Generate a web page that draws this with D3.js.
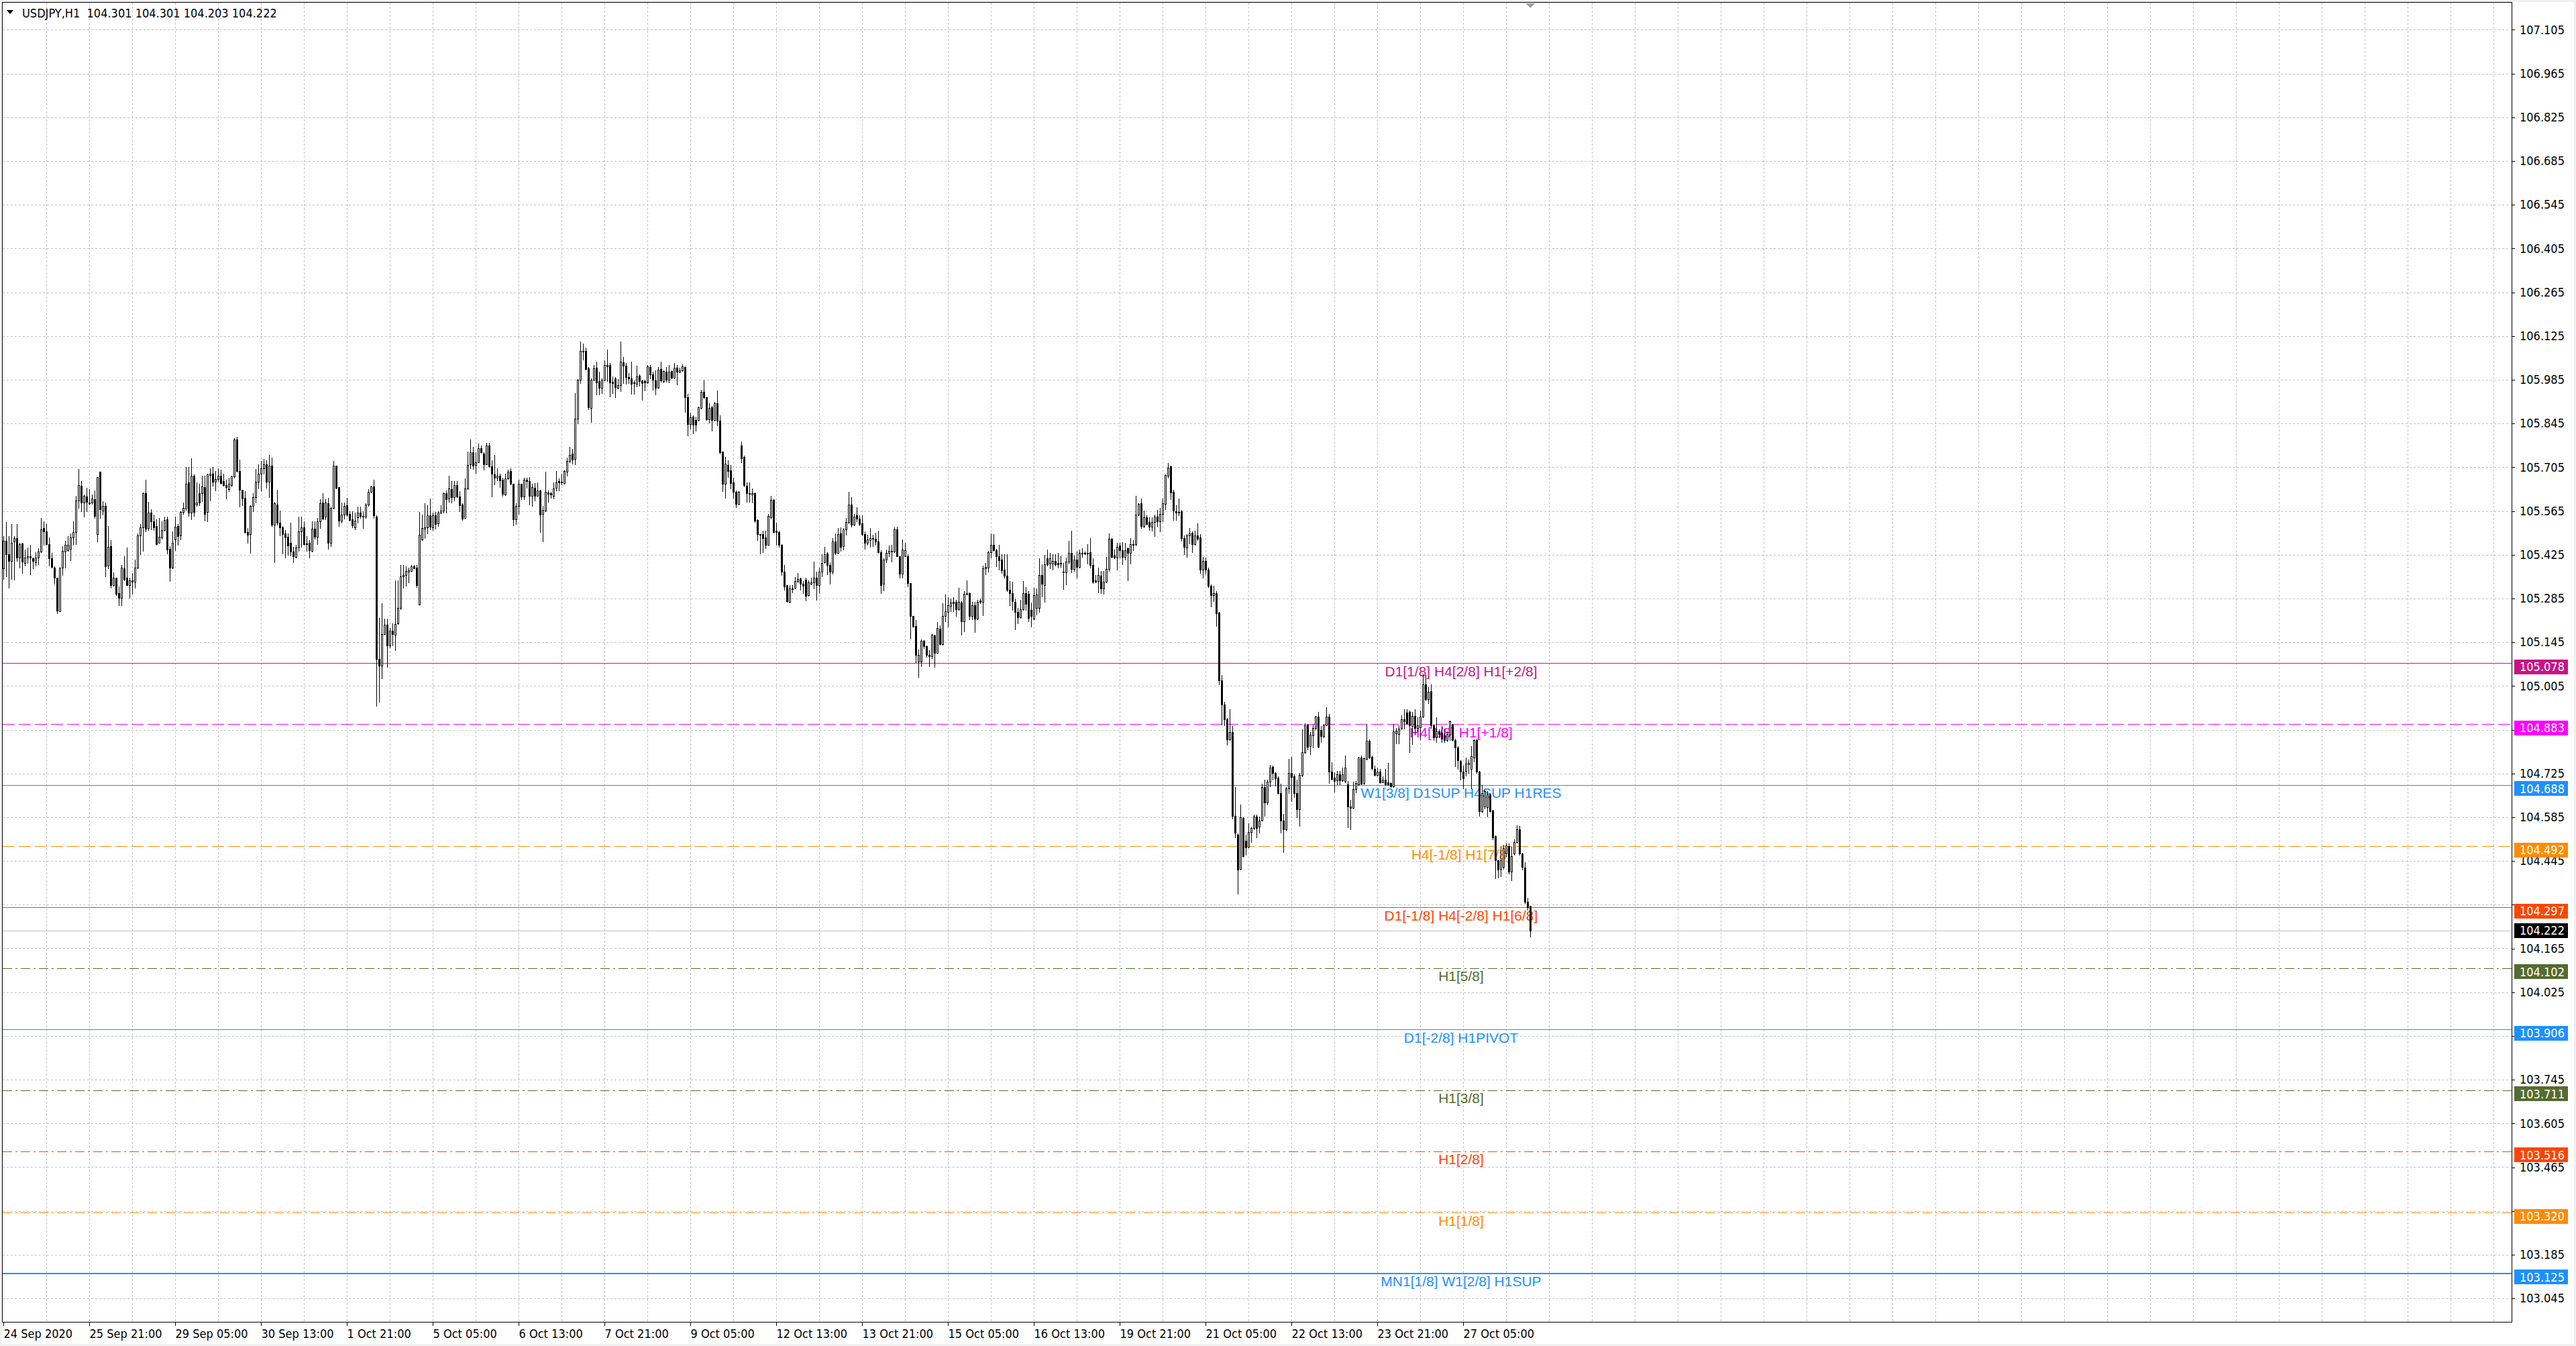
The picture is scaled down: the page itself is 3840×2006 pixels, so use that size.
<!DOCTYPE html>
<html>
<head>
<meta charset="utf-8">
<script src="https://cdn.jsdelivr.net/npm/d3@7"></script>
<style>
  html, body { margin: 0; padding: 0; background: #fff; }
  svg { display: block; }
</style>
</head>
<body>
<script>
// USDJPY H1, one value per hourly bar
const opens = [
  105.381,105.470,105.426,105.406,105.467,105.477,105.416,105.461,105.399,105.415,
  105.420,105.414,105.400,105.415,105.436,105.510,105.500,105.459,105.413,105.384,
  105.352,105.245,105.383,105.436,105.440,105.443,105.481,105.497,105.599,105.646,
  105.591,105.611,105.591,105.591,105.603,105.490,105.690,105.567,105.581,105.391,
  105.452,105.328,105.352,105.302,105.286,105.381,105.351,105.328,105.342,105.338,
  105.383,105.486,105.513,105.621,105.510,105.560,105.531,105.517,105.464,105.481,
  105.503,105.539,105.443,105.384,105.474,105.517,105.486,105.562,105.572,105.657,
  105.560,105.677,105.585,105.622,105.622,105.642,105.562,105.680,105.685,105.658,
  105.667,105.678,105.660,105.648,105.635,105.648,105.675,105.793,105.692,105.632,
  105.606,105.498,105.490,105.581,105.608,105.658,105.684,105.701,105.714,105.658,
  105.710,105.522,105.585,105.528,105.512,105.493,105.483,105.464,105.435,105.417,
  105.449,105.499,105.512,105.461,105.462,105.438,105.508,105.483,105.531,105.592,
  105.546,105.589,105.464,105.574,105.709,105.641,105.533,105.553,105.583,105.555,
  105.538,105.513,105.544,105.560,105.548,105.546,105.586,105.627,105.644,105.546,
  105.092,105.070,105.171,105.200,105.134,105.181,105.168,105.206,105.254,105.356,
  105.360,105.370,105.372,105.388,105.383,105.266,105.474,105.508,105.513,105.551,
  105.513,105.551,105.526,105.560,105.567,105.622,105.605,105.635,105.610,105.647,
  105.612,105.585,105.542,105.637,105.714,105.753,105.712,105.721,105.765,105.748,
  105.715,105.775,105.707,105.682,105.671,105.678,105.664,105.617,105.670,105.692,
  105.651,105.538,105.581,105.651,105.612,105.665,105.661,105.614,105.640,105.613,
  105.631,105.556,105.566,105.624,105.622,105.614,105.640,105.660,105.656,105.655,
  105.690,105.724,105.748,105.731,105.860,105.984,106.075,106.077,106.021,105.894,
  105.985,106.023,105.980,105.958,105.985,106.032,106.032,105.978,105.989,105.958,
  105.967,106.041,106.030,105.993,105.989,105.977,105.971,105.998,105.982,105.980,
  105.977,106.025,106.001,105.982,105.960,106.020,105.980,106.010,105.985,106.013,
  105.991,106.023,106.010,106.014,106.026,105.930,105.844,105.867,105.855,105.855,
  105.894,105.946,105.928,105.858,105.896,105.855,105.910,105.853,105.755,105.652,
  105.713,105.695,105.656,105.627,105.588,105.774,105.738,105.645,105.622,105.617,
  105.622,105.536,105.490,105.490,105.481,105.457,105.545,105.600,105.502,105.497,
  105.457,105.371,105.327,105.273,105.316,105.319,105.341,105.350,105.333,105.345,
  105.295,105.333,105.336,105.352,105.328,105.370,105.400,105.429,105.393,105.371,
  105.467,105.431,105.492,105.452,105.507,105.529,105.585,105.520,105.550,105.540,
  105.526,105.490,105.462,105.472,105.479,105.476,105.467,105.434,105.331,105.409,
  105.431,105.436,105.436,105.506,105.420,105.364,105.421,105.421,105.334,105.228,
  105.197,105.082,105.082,105.149,105.132,105.105,105.101,105.166,105.111,105.189,
  105.139,105.228,105.242,105.262,105.273,105.273,105.250,105.271,105.211,105.298,
  105.302,105.228,105.264,105.220,105.278,105.275,105.381,105.384,105.433,105.456,
  105.440,105.419,105.409,105.377,105.357,105.313,105.302,105.275,105.241,105.225,
  105.250,105.302,105.300,105.248,105.221,105.255,105.255,105.359,105.328,105.414,
  105.397,105.397,105.404,105.398,105.397,105.371,105.368,105.402,105.430,105.379,
  105.409,105.386,105.430,105.431,105.431,105.433,105.393,105.343,105.341,105.357,
  105.316,105.339,105.379,105.475,105.422,105.415,105.454,105.439,105.418,105.445,
  105.430,105.458,105.458,105.553,105.589,105.517,105.544,105.529,105.515,105.529,
  105.547,105.531,105.556,105.587,105.677,105.707,105.626,105.565,105.562,105.565,
  105.478,105.449,105.486,105.495,105.458,105.487,105.481,105.377,105.406,105.377,
  105.325,105.296,105.301,105.240,105.023,104.946,104.899,104.834,104.858,104.590,
  104.530,104.420,104.583,104.509,104.491,104.537,104.551,104.587,104.554,104.575,
  104.682,104.632,104.698,104.745,104.727,104.711,104.662,104.575,104.546,104.677,
  104.727,104.716,104.662,104.611,104.720,104.792,104.882,104.813,104.846,104.870,
  104.906,104.864,104.844,104.880,104.906,104.731,104.711,104.702,104.723,104.703,
  104.701,104.690,104.619,104.615,104.676,104.690,104.776,104.694,104.771,104.830,
  104.778,104.740,104.719,104.730,104.697,104.705,104.696,104.694,104.683,104.854,
  104.851,104.871,104.898,104.919,104.921,104.876,104.909,104.871,104.873,104.907,
  105.009,104.962,104.989,104.880,104.841,104.859,104.855,104.848,104.832,104.848,
  104.882,104.832,104.808,104.765,104.730,104.732,104.755,104.740,104.776,104.832,
  104.730,104.604,104.619,104.617,104.658,104.606,104.524,104.447,104.420,104.425,
  104.468,104.493,104.410,104.468,104.506,104.547,104.468,104.424,104.314,104.301
];
const highs = [
  105.484,105.530,105.484,105.524,105.484,105.524,105.463,105.463,105.441,105.449,
  105.456,105.416,105.434,105.445,105.542,105.531,105.524,105.481,105.431,105.388,
  105.352,105.384,105.452,105.470,105.484,105.492,105.531,105.614,105.700,105.660,
  105.617,105.639,105.634,105.617,105.631,105.673,105.690,105.596,105.592,105.517,
  105.472,105.369,105.352,105.324,105.392,105.420,105.449,105.351,105.366,105.409,
  105.492,105.524,105.624,105.665,105.594,105.571,105.553,105.538,105.543,105.531,
  105.546,105.546,105.452,105.500,105.546,105.524,105.564,105.591,105.705,105.705,
  105.734,105.682,105.657,105.651,105.678,105.678,105.685,105.701,105.705,105.692,
  105.701,105.696,105.685,105.664,105.671,105.678,105.798,105.803,105.730,105.632,
  105.628,105.510,105.584,105.621,105.700,105.715,105.725,105.732,105.727,105.744,
  105.735,105.594,105.633,105.567,105.517,105.503,105.493,105.528,105.450,105.456,
  105.546,105.546,105.531,105.484,105.472,105.531,105.531,105.543,105.603,105.621,
  105.603,105.607,105.578,105.725,105.709,105.642,105.592,105.592,105.607,105.565,
  105.564,105.560,105.578,105.579,105.564,105.589,105.634,105.646,105.664,105.551,
  105.223,105.270,105.221,105.221,105.191,105.206,105.342,105.342,105.392,105.392,
  105.388,105.384,105.392,105.393,105.392,105.562,105.553,105.589,105.584,105.605,
  105.560,105.562,105.564,105.584,105.624,105.631,105.678,105.660,105.660,105.660,
  105.629,105.589,105.670,105.755,105.794,105.771,105.753,105.780,105.775,105.753,
  105.782,105.784,105.728,105.744,105.701,105.685,105.671,105.684,105.696,105.701,
  105.653,105.589,105.664,105.651,105.671,105.672,105.674,105.652,105.655,105.656,
  105.633,105.581,105.690,105.631,105.627,105.657,105.693,105.670,105.685,105.695,
  105.735,105.769,105.763,105.942,105.987,106.107,106.100,106.087,106.025,105.989,
  106.032,106.043,106.010,105.989,106.046,106.082,106.039,105.996,105.993,105.987,
  106.107,106.057,106.039,106.007,106.043,105.982,106.030,106.001,105.984,105.984,
  106.032,106.032,106.010,106.015,106.025,106.043,106.015,106.025,106.032,106.015,
  106.039,106.032,106.023,106.034,106.028,105.939,105.879,105.872,105.867,105.899,
  105.953,105.982,105.930,105.910,105.901,105.914,105.950,105.871,105.755,105.738,
  105.728,105.713,105.672,105.631,105.629,105.788,105.742,105.657,105.657,105.638,
  105.624,105.538,105.491,105.502,105.502,105.556,105.613,105.602,105.527,105.502,
  105.459,105.392,105.328,105.327,105.328,105.354,105.366,105.352,105.340,105.352,
  105.343,105.352,105.402,105.370,105.384,105.427,105.450,105.433,105.400,105.479,
  105.492,105.510,105.512,105.510,105.542,105.626,105.610,105.555,105.576,105.550,
  105.552,105.499,105.488,105.510,105.488,105.495,105.502,105.440,105.413,105.442,
  105.454,105.456,105.512,105.514,105.421,105.474,105.464,105.427,105.335,105.230,
  105.216,105.121,105.154,105.152,105.134,105.119,105.171,105.168,105.209,105.198,
  105.270,105.297,105.290,105.284,105.290,105.280,105.320,105.277,105.309,105.343,
  105.304,105.273,105.273,105.280,105.285,105.391,105.399,105.438,105.492,105.490,
  105.443,105.457,105.427,105.427,105.427,105.340,105.338,105.284,105.255,105.280,
  105.341,105.321,105.309,105.271,105.320,105.316,105.413,105.395,105.424,105.442,
  105.431,105.427,105.427,105.431,105.419,105.398,105.415,105.469,105.502,105.422,
  105.436,105.442,105.445,105.436,105.458,105.478,105.413,105.359,105.384,105.373,
  105.373,105.418,105.493,105.478,105.441,105.463,105.463,105.465,105.463,105.449,
  105.478,105.472,105.614,105.589,105.605,105.567,105.551,105.544,105.544,105.553,
  105.569,105.574,105.605,105.682,105.719,105.711,105.632,105.583,105.605,105.569,
  105.487,105.490,105.511,105.499,105.502,105.526,105.490,105.418,105.415,105.384,
  105.330,105.325,105.309,105.242,105.041,104.955,104.903,104.930,104.876,104.682,
  104.533,104.626,104.584,104.530,104.566,104.554,104.593,104.593,104.587,104.693,
  104.704,104.704,104.752,104.750,104.729,104.716,104.693,104.596,104.682,104.772,
  104.779,104.723,104.704,104.727,104.867,104.885,104.882,104.858,104.882,104.910,
  104.921,104.876,104.882,104.937,104.915,104.761,104.729,104.732,104.732,104.744,
  104.783,104.700,104.640,104.699,104.700,104.779,104.782,104.776,104.884,104.833,
  104.783,104.751,104.744,104.740,104.715,104.740,104.758,104.696,104.884,104.871,
  104.880,104.912,104.930,104.930,104.927,104.921,104.930,104.905,104.927,105.044,
  105.041,105.001,105.009,104.884,104.905,104.866,104.876,104.869,104.859,104.894,
  104.884,104.835,104.812,104.768,104.751,104.776,104.769,104.812,104.833,104.835,
  104.732,104.687,104.672,104.669,104.662,104.608,104.526,104.448,104.490,104.497,
  104.500,104.500,104.490,104.513,104.558,104.556,104.472,104.441,104.328,104.301
];
const lows = [
  105.348,105.356,105.320,105.348,105.345,105.406,105.384,105.366,105.391,105.399,
  105.363,105.381,105.391,105.395,105.434,105.456,105.456,105.391,105.384,105.331,
  105.237,105.245,105.359,105.384,105.438,105.407,105.456,105.459,105.574,105.564,
  105.546,105.564,105.585,105.588,105.542,105.467,105.542,105.553,105.356,105.381,
  105.320,105.326,105.295,105.263,105.263,105.342,105.327,105.286,105.299,105.320,
  105.381,105.426,105.438,105.500,105.503,105.506,105.503,105.456,105.462,105.476,
  105.501,105.429,105.340,105.381,105.440,105.456,105.474,105.555,105.569,105.549,
  105.539,105.549,105.581,105.584,105.596,105.533,105.531,105.599,105.646,105.631,
  105.660,105.651,105.646,105.605,105.628,105.644,105.671,105.691,105.578,105.584,
  105.496,105.464,105.431,105.564,105.592,105.637,105.631,105.685,105.639,105.608,
  105.517,105.400,105.522,105.486,105.428,105.415,105.424,105.422,105.400,105.415,
  105.438,105.450,105.456,105.438,105.415,105.436,105.476,105.459,105.510,105.538,
  105.538,105.443,105.452,105.572,105.637,105.517,105.528,105.541,105.549,105.533,
  105.513,105.506,105.528,105.542,105.510,105.542,105.581,105.624,105.542,104.941,
  104.954,105.030,105.170,105.066,105.127,105.134,105.120,105.204,105.250,105.319,
  105.326,105.336,105.372,105.381,105.321,105.266,105.472,105.478,105.493,105.506,
  105.503,105.508,105.517,105.558,105.560,105.560,105.594,105.592,105.599,105.610,
  105.565,105.536,105.541,105.635,105.701,105.700,105.687,105.720,105.751,105.698,
  105.714,105.705,105.612,105.649,105.662,105.642,105.614,105.615,105.667,105.649,
  105.519,105.524,105.556,105.603,105.603,105.640,105.586,105.581,105.599,105.613,
  105.498,105.468,105.564,105.595,105.606,105.604,105.631,105.631,105.649,105.652,
  105.677,105.720,105.717,105.715,105.846,105.975,106.050,106.018,105.891,105.849,
  105.982,105.937,105.937,105.942,105.982,105.980,105.932,105.942,105.930,105.957,
  105.948,105.975,105.971,105.975,105.939,105.939,105.964,105.965,105.921,105.950,
  105.975,105.989,105.953,105.937,105.958,105.978,105.977,105.978,105.977,105.989,
  105.989,105.970,106.008,106.013,105.882,105.806,105.829,105.814,105.822,105.853,
  105.892,105.924,105.857,105.848,105.822,105.853,105.839,105.749,105.629,105.606,
  105.674,105.638,105.606,105.577,105.586,105.720,105.643,105.593,105.593,105.592,
  105.529,105.471,105.428,105.433,105.445,105.456,105.541,105.495,105.456,105.450,
  105.359,105.312,105.273,105.271,105.305,105.316,105.337,105.313,105.302,105.278,
  105.293,105.330,105.316,105.280,105.302,105.356,105.399,105.363,105.333,105.364,
  105.427,105.429,105.438,105.441,105.488,105.526,105.514,105.519,105.531,105.519,
  105.486,105.443,105.457,105.450,105.452,105.457,105.431,105.302,105.311,105.400,
  105.421,105.402,105.434,105.419,105.352,105.352,105.419,105.323,105.155,105.195,
  105.080,105.033,105.068,105.125,105.098,105.068,105.094,105.066,105.109,105.137,
  105.137,105.212,105.195,105.245,105.245,105.230,105.248,105.168,105.180,105.297,
  105.218,105.218,105.178,105.218,105.270,105.232,105.363,105.370,105.416,105.438,
  105.388,105.377,105.366,105.352,105.309,105.264,105.248,105.187,105.205,105.223,
  105.248,105.248,105.211,105.195,105.218,105.234,105.241,105.291,105.273,105.390,
  105.381,105.377,105.391,105.384,105.386,105.314,105.330,105.397,105.368,105.373,
  105.352,105.384,105.418,105.427,105.397,105.384,105.334,105.337,105.305,105.303,
  105.300,105.337,105.373,105.415,105.413,105.377,105.415,105.394,105.409,105.343,
  105.397,105.439,105.454,105.551,105.511,105.513,105.520,105.504,105.502,105.484,
  105.517,105.499,105.531,105.571,105.671,105.603,105.535,105.535,105.551,105.469,
  105.427,105.418,105.460,105.433,105.457,105.472,105.366,105.352,105.364,105.321,
  105.258,105.276,105.197,105.011,104.881,104.879,104.816,104.831,104.581,104.521,
  104.341,104.418,104.458,104.465,104.488,104.506,104.546,104.521,104.536,104.573,
  104.590,104.626,104.684,104.704,104.686,104.659,104.536,104.474,104.545,104.662,
  104.637,104.650,104.584,104.557,104.716,104.788,104.801,104.786,104.808,104.867,
  104.808,104.825,104.840,104.879,104.695,104.704,104.666,104.689,104.690,104.700,
  104.697,104.553,104.547,104.612,104.665,104.687,104.690,104.690,104.769,104.773,
  104.737,104.718,104.718,104.694,104.696,104.687,104.687,104.682,104.682,104.821,
  104.821,104.866,104.869,104.884,104.792,104.819,104.848,104.860,104.833,104.905,
  104.958,104.949,104.870,104.832,104.825,104.840,104.825,104.826,104.828,104.832,
  104.830,104.748,104.740,104.705,104.677,104.718,104.726,104.677,104.762,104.726,
  104.590,104.599,104.612,104.586,104.601,104.515,104.390,104.391,104.395,104.420,
  104.460,104.404,104.384,104.465,104.504,104.465,104.418,104.310,104.289,104.203
];
const closes = [
  105.470,105.427,105.406,105.464,105.477,105.416,105.459,105.402,105.415,105.420,
  105.415,105.406,105.415,105.436,105.507,105.499,105.459,105.413,105.386,105.352,
  105.247,105.383,105.438,105.456,105.457,105.481,105.497,105.598,105.648,105.592,
  105.614,105.593,105.592,105.605,105.548,105.673,105.570,105.581,105.388,105.450,
  105.328,105.351,105.299,105.286,105.383,105.348,105.328,105.342,105.338,105.383,
  105.486,105.513,105.621,105.508,105.559,105.531,105.513,105.459,105.483,105.503,
  105.537,105.442,105.384,105.464,105.515,105.484,105.562,105.574,105.651,105.560,
  105.678,105.562,105.592,105.591,105.643,105.555,105.682,105.684,105.658,105.667,
  105.678,105.655,105.648,105.641,105.651,105.675,105.793,105.692,105.632,105.605,
  105.498,105.488,105.581,105.608,105.658,105.685,105.701,105.715,105.658,105.710,
  105.522,105.590,105.528,105.512,105.491,105.481,105.455,105.435,105.419,105.447,
  105.500,105.512,105.459,105.459,105.440,105.508,105.483,105.531,105.589,105.541,
  105.591,105.464,105.574,105.709,105.639,105.533,105.553,105.581,105.553,105.535,
  105.519,105.533,105.560,105.548,105.546,105.586,105.627,105.644,105.551,105.092,
  105.070,105.170,105.202,105.134,105.181,105.170,105.204,105.254,105.356,105.361,
  105.372,105.374,105.388,105.381,105.328,105.488,105.510,105.513,105.551,105.515,
  105.551,105.524,105.560,105.567,105.621,105.603,105.637,105.608,105.647,105.612,
  105.584,105.541,105.637,105.712,105.752,105.710,105.721,105.765,105.753,105.715,
  105.775,105.707,105.684,105.671,105.677,105.662,105.619,105.670,105.691,105.651,
  105.538,105.581,105.651,105.612,105.665,105.660,105.613,105.642,105.613,105.631,
  105.554,105.569,105.627,105.619,105.617,105.638,105.656,105.657,105.658,105.692,
  105.724,105.745,105.729,105.860,105.985,106.077,106.077,106.020,105.896,105.985,
  106.021,105.977,105.958,105.984,106.032,106.028,105.977,105.975,105.962,105.967,
  106.043,106.030,105.993,105.989,105.972,105.975,105.996,105.980,105.975,105.977,
  106.027,106.001,105.984,105.960,106.018,105.982,106.013,105.985,106.010,105.991,
  106.023,106.010,106.014,106.027,105.930,105.844,105.865,105.841,105.841,105.896,
  105.946,105.930,105.858,105.894,105.855,105.910,105.853,105.753,105.652,105.717,
  105.693,105.655,105.626,105.588,105.626,105.733,105.647,105.622,105.619,105.622,
  105.533,105.490,105.488,105.478,105.457,105.549,105.600,105.498,105.497,105.456,
  105.371,105.323,105.276,105.318,105.318,105.341,105.348,105.333,105.326,105.293,
  105.336,105.336,105.352,105.328,105.370,105.399,105.426,105.393,105.371,105.467,
  105.431,105.490,105.450,105.505,105.529,105.585,105.520,105.547,105.540,105.524,
  105.490,105.462,105.474,105.479,105.476,105.467,105.434,105.328,105.409,105.431,
  105.438,105.438,105.506,105.420,105.364,105.442,105.440,105.334,105.228,105.195,
  105.104,105.104,105.149,105.132,105.104,105.101,105.168,105.111,105.191,105.139,
  105.228,105.245,105.264,105.271,105.270,105.250,105.273,105.211,105.300,105.302,
  105.228,105.264,105.220,105.275,105.275,105.381,105.386,105.433,105.456,105.440,
  105.419,105.407,105.376,105.357,105.313,105.302,105.277,105.241,105.225,105.250,
  105.302,105.268,105.223,105.228,105.295,105.297,105.359,105.331,105.395,105.395,
  105.414,105.404,105.395,105.395,105.398,105.368,105.402,105.430,105.379,105.409,
  105.386,105.430,105.431,105.431,105.431,105.393,105.339,105.339,105.359,105.316,
  105.339,105.379,105.475,105.418,105.415,105.451,105.439,105.418,105.439,105.430,
  105.458,105.458,105.553,105.587,105.517,105.544,105.524,105.515,105.529,105.547,
  105.531,105.556,105.589,105.680,105.704,105.623,105.567,105.560,105.562,105.477,
  105.451,105.487,105.493,105.458,105.487,105.475,105.377,105.406,105.377,105.325,
  105.296,105.303,105.237,105.023,104.946,104.899,104.834,104.858,104.590,104.536,
  104.418,104.584,104.461,104.488,104.537,104.551,104.587,104.551,104.575,104.682,
  104.632,104.698,104.743,104.727,104.709,104.662,104.575,104.546,104.677,104.727,
  104.714,104.662,104.611,104.720,104.792,104.882,104.810,104.849,104.870,104.906,
  104.810,104.844,104.880,104.906,104.731,104.707,104.700,104.723,104.702,104.722,
  104.744,104.619,104.615,104.676,104.694,104.776,104.692,104.773,104.830,104.776,
  104.742,104.719,104.730,104.697,104.706,104.690,104.689,104.683,104.859,104.861,
  104.869,104.898,104.891,104.885,104.878,104.909,104.871,104.880,104.907,105.009,
  104.962,104.987,104.880,104.841,104.859,104.851,104.837,104.832,104.851,104.891,
  104.832,104.808,104.768,104.730,104.710,104.756,104.758,104.780,104.832,104.730,
  104.604,104.663,104.669,104.658,104.604,104.520,104.447,104.418,104.447,104.486,
  104.495,104.411,104.461,104.505,104.546,104.468,104.425,104.314,104.298,104.222
];

// time axis labels, one every 32 bars
const timeLabels = ["24 Sep 2020", "25 Sep 21:00", "29 Sep 05:00", "30 Sep 13:00", "1 Oct 21:00",
  "5 Oct 05:00", "6 Oct 13:00", "7 Oct 21:00", "9 Oct 05:00", "12 Oct 13:00", "13 Oct 21:00",
  "15 Oct 05:00", "16 Oct 13:00", "19 Oct 21:00", "21 Oct 05:00", "22 Oct 13:00", "23 Oct 21:00",
  "27 Oct 05:00"];
const labelStep = 32;

// price axis labels
const priceTicks = [107.105, 106.965, 106.825, 106.685, 106.545, 106.405, 106.265, 106.125,
  105.985, 105.845, 105.705, 105.565, 105.425, 105.285, 105.145, 105.005, 104.865, 104.725,
  104.585, 104.445, 104.305, 104.165, 104.025, 103.885, 103.745, 103.605, 103.465, 103.325,
  103.185, 103.045];

// murrey math levels
const levelPrices = [105.078, 104.883, 104.688, 104.492, 104.297, 104.102, 103.906, 103.711, 103.516, 103.320, 103.125];
const levelTexts = ["D1[1/8] H4[2/8] H1[+2/8]", "H4[1/8] H1[+1/8]", "W1[3/8] D1SUP H4SUP H1RES",
  "H4[-1/8] H1[7/8]", "D1[-1/8] H4[-2/8] H1[6/8]", "H1[5/8]", "D1[-2/8] H1PIVOT", "H1[3/8]",
  "H1[2/8]", "H1[1/8]", "MN1[1/8] W1[2/8] H1SUP"];

const symbol = "USDJPY,H1";

// ---- styles ----
const levelColors = ["#C71585", "#FF00FF", "#1E90FF", "#FF8C00", "#FF4500", "#556B2F", "#1E90FF", "#556B2F", "#FF4500", "#FF8C00", "#1E90FF"];
const levelDash = [null, "18,6", null, "18,6", null, "14,5,3,5", null, "14,5,3,5", "14,5,3,5", "14,5,3,5", null];
const levelWidth = [1, 1, 1, 1, 1, 1, 1, 1, 1, 1, 2];

const W = 3840, H = 2006;
const plot = { left: 4, top: 4, right: 3744, bottom: 1970 };
const axisFont = "'DejaVu Sans Condensed', 'DejaVu Sans', Tahoma, sans-serif";
const labelFont = "'Liberation Sans', Arial, sans-serif";
const boxShift = 5.5;   // level price boxes sit a little below their line

const svg = d3.select('body').append('svg')
  .attr('width', W).attr('height', H)
  .style('font-family', axisFont);

// window
svg.append('rect').attr('width', W).attr('height', H).attr('fill', '#f0f0f0');
svg.append('rect').attr('x', 3).attr('y', 3).attr('width', W - 6).attr('height', H - 6).attr('fill', '#fff');

const n = closes.length;
const x = d3.scaleLinear().domain([0, 1]).range([5.3, 9.3]);
const y = d3.scaleLinear().domain([107.105, 103.045]).range([44.3, 1935.1]);
const px = v => Math.round(v) + 0.5;

// grid
const grid = svg.append('g').attr('shape-rendering', 'crispEdges')
  .attr('stroke', '#c0c0c0').attr('stroke-width', 1).attr('stroke-dasharray', '3,3');
grid.selectAll('.hg').data(priceTicks).join('line')
  .attr('class', 'hg')
  .attr('x1', plot.left).attr('x2', plot.right)
  .attr('y1', d => px(y(d))).attr('y2', d => px(y(d)));
const vgrid = d3.range(16, 935, 16).filter(i => x(i) < plot.right - 2);
grid.selectAll('.vg').data(vgrid).join('line')
  .attr('class', 'vg')
  .attr('y1', plot.top).attr('y2', plot.bottom)
  .attr('x1', d => px(x(d))).attr('x2', d => px(x(d)));

// level lines + texts
const levels = levelPrices.map((p, i) => ({ p, text: levelTexts[i], color: levelColors[i], dash: levelDash[i], w: levelWidth[i] }));
const lv = svg.append('g');
lv.selectAll('line').data(levels).join('line')
  .attr('shape-rendering', 'crispEdges')
  .attr('x1', plot.left).attr('x2', plot.right)
  .attr('y1', d => d.w === 2 ? Math.round(y(d.p)) : px(y(d.p)))
  .attr('y2', d => d.w === 2 ? Math.round(y(d.p)) : px(y(d.p)))
  .attr('stroke', d => d.color)
  .attr('stroke-width', d => d.w)
  .attr('stroke-dasharray', d => d.dash);
// bid line
const last = n - 1;
lv.append('line')
  .attr('shape-rendering', 'crispEdges')
  .attr('x1', plot.left).attr('x2', plot.right)
  .attr('y1', px(y(closes[last]))).attr('y2', px(y(closes[last])))
  .attr('stroke', '#c0c0c0');
lv.selectAll('text').data(levels).join('text')
  .attr('x', 2178).attr('y', d => y(d.p) + 19.5)
  .attr('text-anchor', 'middle')
  .attr('fill', d => d.color)
  .style('font-family', labelFont)
  .style('font-size', '21px')
  .text(d => d.text);

// candles
const bars = d3.range(n).map(i => ({ i, o: opens[i], h: highs[i], l: lows[i], c: closes[i] }));
const cg = svg.append('g').attr('shape-rendering', 'crispEdges');
cg.selectAll('.wick').data(bars).join('line')
  .attr('class', 'wick')
  .attr('x1', d => px(x(d.i))).attr('x2', d => px(x(d.i)))
  .attr('y1', d => Math.round(y(Math.max(d.h, d.o, d.c))))
  .attr('y2', d => Math.round(y(Math.min(d.l, d.o, d.c))) + 1)
  .attr('stroke', '#000').attr('stroke-width', 1);
cg.selectAll('.body').data(bars).join('rect')
  .attr('class', 'body')
  .each(function (d) {
    const cx = Math.round(x(d.i));
    const top = Math.round(y(Math.max(d.o, d.c)));
    const bot = Math.max(top + 1, Math.round(y(Math.min(d.o, d.c))));
    const sel = d3.select(this);
    if (d.c >= d.o) {
      sel.attr('x', cx - 0.5).attr('y', top + 0.5).attr('width', 2).attr('height', Math.max(bot - top, 1))
        .attr('fill', '#fff').attr('stroke', '#000').attr('stroke-width', 1);
    } else {
      sel.attr('x', cx - 1).attr('y', top).attr('width', 3).attr('height', bot - top + 1)
        .attr('fill', '#000');
    }
  });

// frame
svg.append('rect')
  .attr('x', plot.left - 0.5).attr('y', plot.top - 0.5)
  .attr('width', plot.right - plot.left + 1).attr('height', plot.bottom - plot.top + 1)
  .attr('fill', 'none').attr('stroke', '#000').attr('shape-rendering', 'crispEdges');

// chart shift marker
svg.append('path')
  .attr('d', `M${x(569) - 7},${plot.top + 1}L${x(569) + 7},${plot.top + 1}L${x(569)},${plot.top + 8}Z`)
  .attr('fill', '#a0a0a0');

// price boxes (level ones shifted down, bid box centred)
const boxes = levels.map(d => ({ p: d.p, color: d.color, cy: y(d.p) + boxShift }));
boxes.push({ p: closes[last], color: '#000', cy: y(closes[last]) });

// price axis
const yAxis = svg.append('g')
  .attr('transform', `translate(${plot.right},0)`)
  .call(d3.axisRight(y).tickValues(priceTicks).tickFormat(d3.format('.3f')).tickSize(5).tickPadding(7));
yAxis.select('.domain').remove();
yAxis.selectAll('.tick line').attr('stroke', '#000').attr('shape-rendering', 'crispEdges');
yAxis.selectAll('text').style('font-family', axisFont).style('font-size', '18px').attr('fill', '#000');
// labels hidden under a price box
yAxis.selectAll('.tick text')
  .style('display', d => boxes.some(b => Math.abs(y(d) - b.cy) < 14) ? 'none' : null);

const bg = svg.append('g');
bg.selectAll('rect').data(boxes).join('rect')
  .attr('x', plot.right + 4).attr('y', d => Math.round(d.cy) - 11)
  .attr('width', 80).attr('height', 22)
  .attr('fill', d => d.color);
bg.selectAll('text').data(boxes).join('text')
  .attr('x', plot.right + 12).attr('y', d => d.cy).attr('dy', '0.35em')
  .attr('fill', '#fff')
  .style('font-family', axisFont).style('font-size', '18px')
  .text(d => d3.format('.3f')(d.p));

// time axis
const timeBars = timeLabels.map((t, k) => k * labelStep);
const xAxis = svg.append('g')
  .attr('transform', `translate(0,${plot.bottom})`)
  .call(d3.axisBottom(x).tickValues(timeBars).tickFormat((d, k) => timeLabels[k]).tickSize(6).tickPadding(5));
xAxis.select('.domain').remove();
xAxis.selectAll('.tick').attr('transform', d => `translate(${px(x(d))},0)`);
xAxis.selectAll('.tick line').attr('stroke', '#000').attr('shape-rendering', 'crispEdges');
xAxis.selectAll('text').attr('text-anchor', 'start').attr('x', 0)
  .style('font-family', axisFont).style('font-size', '18px').attr('fill', '#000');

// header
svg.append('path').attr('d', 'M10,15L20,15L15,21Z').attr('fill', '#000');
svg.append('text')
  .attr('x', 33).attr('y', 26)
  .attr('xml:space', 'preserve')
  .style('white-space', 'pre')
  .style('font-size', '18px')
  .text(`${symbol}  ${opens[last].toFixed(3)} ${highs[last].toFixed(3)} ${lows[last].toFixed(3)} ${closes[last].toFixed(3)}`);
</script>
</body>
</html>
